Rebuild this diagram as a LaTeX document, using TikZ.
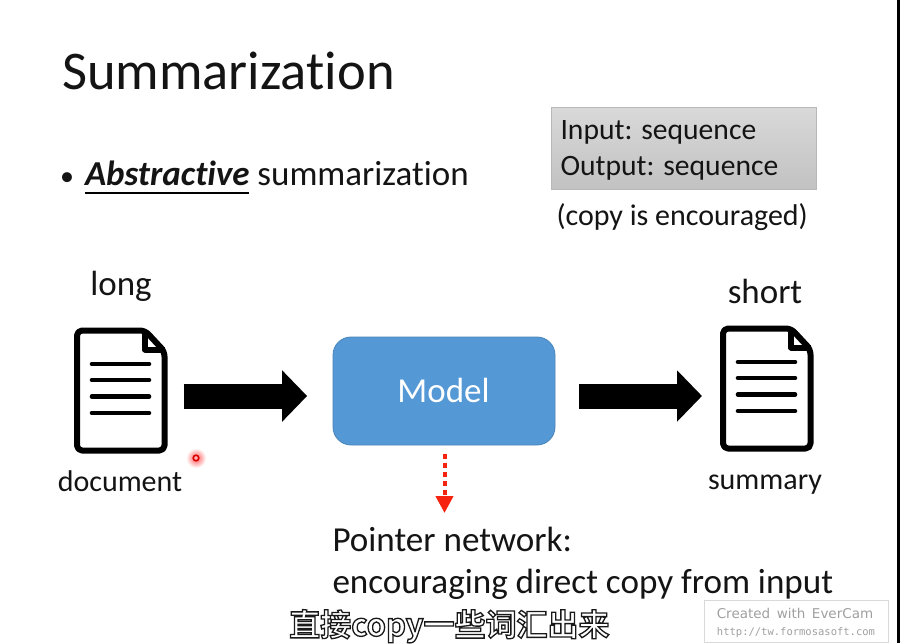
\documentclass[tikz,border=0pt]{standalone}
\usepackage{fontspec}
\setmainfont[Ligatures=NoCommon,RawFeature={-liga;-clig;-dlig}]{Carlito}
\newfontfamily\cjkf[BoldFont={Noto Sans CJK SC Bold}]{Noto Sans CJK SC}
\newfontfamily\wmsans{DejaVu Sans}
\newfontfamily\wmmono{DejaVu Sans Mono}
\usetikzlibrary{arrows.meta,shadings}
\definecolor{modelblue}{HTML}{5498D6}
\definecolor{modeledge}{HTML}{4A84B8}
\definecolor{txt}{HTML}{141414}
\definecolor{wm}{HTML}{A0A0A0}
\definecolor{ptrred}{HTML}{F5230F}
\tikzset{
  x=1pt,y=-1pt,
  lbl/.style={anchor=base west,inner sep=0pt,outer sep=0pt,text=txt,font=\fontsize{#1}{#1}\selectfont},
  clbl/.style={anchor=base,inner sep=0pt,outer sep=0pt,text=txt,font=\fontsize{#1}{#1}\selectfont},
  blockarrow/.style={line width=25pt,black,-{Triangle[length=25pt,width=50pt]}},
  iconbox/.style={minimum width=93pt,minimum height=125pt,inner sep=0pt,outer sep=0pt},
}
\newcommand{\docicon}[2]{%
  \begin{scope}[shift={(#1,#2)},line width=6pt,black,line join=round]
    \draw[rounded corners=5pt] (0,0) -- (68,0) -- (87.5,21) -- (87.5,120) -- (0,120) -- cycle;
    \draw (68,0) -- (68,19) -- (87.5,19);
    \draw[line width=4.6pt,line cap=round] (15,33.5) -- (72,33.5) (15,49.5) -- (72,49.5) (15,66) -- (72,66) (15,82.5) -- (72,82.5);
  \end{scope}}
\begin{document}
\begin{tikzpicture}
\useasboundingbox (0,0) rectangle (900,643);
\fill[white] (0,0) rectangle (900,643);
\fill[black] (897,0) rectangle (900,643);

\node[lbl=54.5] (title) at (62,89) {Summarization};
\node[lbl=35] (bullet) at (60,185) {\fontsize{28}{28}\selectfont •};
\node[lbl=35] (abst) at (85,185.5) {\textbf{\textit{Abstractive}} summarization};
\draw[black,line width=1.5pt] (85,193) -- (249,193);

\shade[top color=black!15,bottom color=black!24,draw=black!28,line width=.8pt] (551,107) rectangle (816,189);
\node[lbl=29.6] (inp) at (560.5,139.5) {Input: sequence};
\node[lbl=29.6] (outp) at (560.5,175.5) {Output: sequence};
\node[lbl=30] (copy) at (556.5,225.5) {(copy is encouraged)};

\node[clbl=35] (long) at (121,295.5) {long};
\node[clbl=35] (short) at (765,303.5) {short};

\node[iconbox] (docL) at (121,390.5) {};
\docicon{77}{330.5}
\node[iconbox] (docR) at (767,388.5) {};
\docicon{723}{328.5}

\node[clbl=30] (document) at (120,491.5) {document};
\node[clbl=30] (summary) at (765,489.5) {summary};

\node[draw=modeledge,fill=modelblue,rounded corners=18pt,minimum width=222pt,minimum height=108pt,inner sep=0pt,line width=.8pt] (model) at (444,391) {};
\node[clbl=35,text=white] (modeltext) at (443.5,402.5) {Model};

\draw[blockarrow,shorten <=16pt,shorten >=25.5pt] (docL.east |- 0,396) -- (model.west |- 0,396);
\draw[blockarrow,shorten <=24pt,shorten >=18.5pt] (model.east |- 0,396) -- (docR.west |- 0,396);

\coordinate (ptip) at (444.5,513);
\draw[ptrred,line width=4pt,dash pattern=on 5pt off 4pt,-{Triangle[length=17pt,width=17pt]},shorten <=9pt] (model.south -| ptip) -- (ptip);

\node[lbl=35.1] (pn) at (332.5,551) {Pointer network:};
\node[lbl=35.1] (enc) at (332.5,593) {encouraging direct copy from input};

\shade[inner color=red!65,outer color=white] (196,458) circle (10pt);
\draw[red!85!black,line width=1.6pt,fill=white!70!red] (196,458) circle (2.8pt);

\node[anchor=base west,inner sep=0pt,text=white,font=\cjkf\bfseries\fontsize{31}{31}\selectfont] (sub) at (289,636)
  {\special{pdf:code q 2 Tr 1.3 w 0.1 0.1 0.1 RG}直接copy一些词汇出来\special{pdf:code 0 Tr Q}};

\node[draw=black!15,fill=white,line width=.8pt,minimum width=184pt,minimum height=42pt,inner sep=0pt] (wmbox) at (796,621) {};
\node[anchor=base,inner sep=0pt,text=wm,font=\wmsans\fontsize{13.5}{13.5}\selectfont] (wm1) at (795,618) {Created\, with\, EverCam};
\node[anchor=base,inner sep=0pt,text=wm,font=\wmmono\fontsize{10.5}{10.5}\selectfont] (wm2) at (796,635) {http://tw.formosasoft.com};
\end{tikzpicture}
\end{document}
